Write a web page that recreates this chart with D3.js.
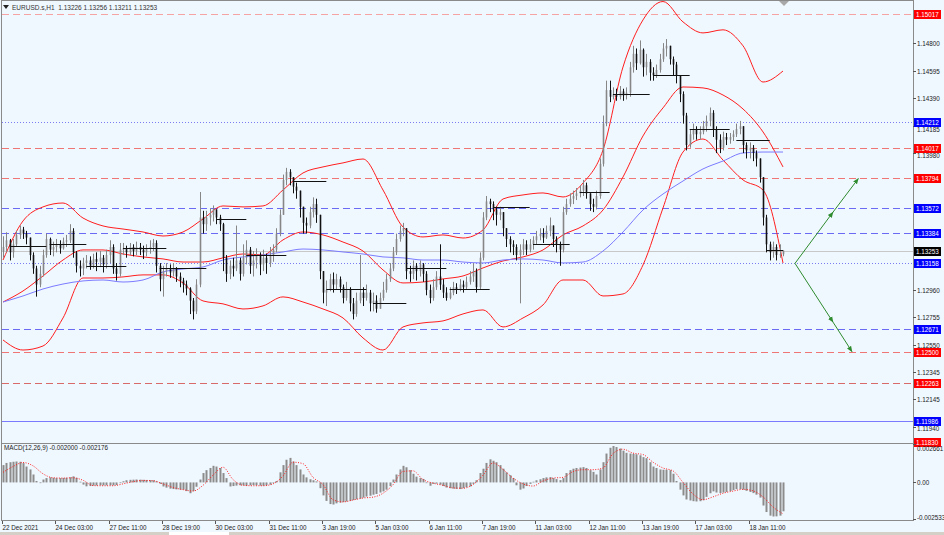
<!DOCTYPE html>
<html><head><meta charset="utf-8">
<script src="https://cdn.jsdelivr.net/npm/d3@7"></script>
<style>
body{margin:0;background:#f0f8ff;}
svg{display:block;font-family:"Liberation Sans",Arial,sans-serif;}
</style>
</head><body>
<svg id="c" width="944" height="535"></svg>
<script>
// ---------------- DATA ----------------
const symbolTitle = "EURUSD.s,H1  1.13226 1.13256 1.13211 1.13253";
const macdTitle = "MACD(12,26,9) -0.002000 -0.002176";
const firstOpen = 1.1325;
const closes = [
1.1328,1.1333,1.1324,1.1330,1.1337,1.1341,1.1338,1.1335,1.1322,1.1312,
1.1300,1.1308,1.1322,1.1334,1.1326,1.1328,1.1330,1.1327,1.1332,1.1333,
1.1340,1.1324,1.1314,1.1312,1.1316,1.1318,1.1314,1.1319,1.1317,1.1320,
1.1315,1.1322,1.1328,1.1312,1.1308,1.1326,1.1327,1.1324,1.1328,1.1325,
1.1328,1.1326,1.1324,1.1327,1.1328,1.1331,1.1314,1.1304,1.1310,1.1312,
1.1309,1.1312,1.1306,1.1303,1.1300,1.1297,1.1288,1.1280,1.1300,1.1350,
1.1345,1.1350,1.1352,1.1356,1.1350,1.1345,1.1320,1.1308,1.1314,1.1312,
1.1318,1.1308,1.1320,1.1326,1.1314,1.1318,1.1322,1.1315,1.1320,1.1316,
1.1322,1.1326,1.1338,1.1352,1.1378,1.1384,1.1380,1.1373,1.1370,1.1358,
1.1346,1.1344,1.1354,1.1360,1.1352,1.1310,1.1294,1.1296,1.1304,1.1300,
1.1304,1.1298,1.1290,1.1296,1.1286,1.1278,1.1288,1.1294,1.1290,1.1294,
1.1286,1.1288,1.1282,1.1290,1.1296,1.1304,1.1312,1.1324,1.1334,1.1340,
1.1342,1.1310,1.1308,1.1314,1.1310,1.1315,1.1308,1.1296,1.1290,1.1298,
1.1306,1.1300,1.1294,1.1290,1.1294,1.1298,1.1296,1.1300,1.1298,1.1302,
1.1306,1.1310,1.1298,1.1320,1.1350,1.1362,1.1360,1.1356,1.1352,1.1354,
1.1342,1.1334,1.1330,1.1328,1.1322,1.1326,1.1330,1.1326,1.1330,1.1333,
1.1336,1.1338,1.1335,1.1340,1.1344,1.1334,1.1330,1.1326,1.1354,1.1360,
1.1364,1.1366,1.1368,1.1370,1.1374,1.1368,1.1360,1.1358,1.1366,1.1390,
1.1420,1.1445,1.1440,1.1442,1.1440,1.1444,1.1441,1.1443,1.1462,1.1472,
1.1465,1.1475,1.1462,1.1466,1.1458,1.1456,1.1460,1.1468,1.1476,1.1478,
1.1468,1.1464,1.1456,1.1442,1.1426,1.1404,1.1412,1.1416,1.1412,1.1414,
1.1418,1.1422,1.1428,1.1416,1.1408,1.1402,1.1410,1.1408,1.1410,1.1412,
1.1416,1.1418,1.1404,1.1400,1.1402,1.1398,1.1394,1.1380,1.1350,1.1330,
1.1324,1.1328,1.1322,1.13226,1.13253];
const highs = [
1.1336,1.1339,1.1334,1.1334,1.1340,1.1344,1.1343,1.1340,1.1335,1.1324,
1.1314,1.1314,1.1326,1.1338,1.1335,1.1332,1.1334,1.1333,1.1335,1.1337,
1.1345,1.1342,1.1325,1.1318,1.1320,1.1322,1.1321,1.1323,1.1324,1.1325,
1.1322,1.1326,1.1333,1.1330,1.1316,1.1331,1.1331,1.1329,1.1331,1.1330,
1.1332,1.1331,1.1329,1.1330,1.1333,1.1334,1.1333,1.1316,1.1314,1.1316,
1.1315,1.1316,1.1313,1.1309,1.1305,1.1303,1.1298,1.1290,1.1304,1.1369,
1.1355,1.1355,1.1357,1.1359,1.1356,1.1352,1.1346,1.1322,1.1318,1.1320,
1.1344,1.1320,1.1330,1.1333,1.1328,1.1325,1.1327,1.1324,1.1326,1.1323,
1.1328,1.1330,1.1342,1.1356,1.1382,1.1387,1.1386,1.1380,1.1376,1.1370,
1.1358,1.1350,1.1358,1.1365,1.1364,1.1352,1.1310,1.1303,1.1308,1.1309,
1.1308,1.1306,1.1300,1.1302,1.1298,1.1290,1.1294,1.1322,1.1298,1.1300,
1.1296,1.1294,1.1292,1.1294,1.1302,1.1308,1.1316,1.1328,1.1338,1.1344,
1.1346,1.1342,1.1314,1.1318,1.1316,1.1318,1.1316,1.1310,1.1300,1.1304,
1.1310,1.1330,1.1304,1.1298,1.1298,1.1302,1.1301,1.1304,1.1303,1.1306,
1.1310,1.1316,1.1312,1.1324,1.1354,1.1366,1.1364,1.1362,1.1358,1.1358,
1.1354,1.1342,1.1336,1.1333,1.1330,1.1330,1.1334,1.1333,1.1334,1.1336,
1.1340,1.1342,1.1342,1.1344,1.1350,1.1344,1.1336,1.1332,1.1358,1.1364,
1.1368,1.1370,1.1372,1.1374,1.1378,1.1376,1.1368,1.1364,1.1370,1.1394,
1.1426,1.1452,1.1452,1.1447,1.1446,1.1448,1.1446,1.1447,1.1466,1.1478,
1.1476,1.1482,1.1476,1.1472,1.1468,1.1462,1.1464,1.1472,1.1480,1.1483,
1.1478,1.1470,1.1466,1.1456,1.1444,1.1428,1.1416,1.1420,1.1418,1.1418,
1.1422,1.1426,1.1432,1.1430,1.1418,1.1412,1.1414,1.1413,1.1413,1.1415,
1.1420,1.1422,1.1418,1.1406,1.1406,1.1404,1.1400,1.1394,1.1380,1.1352,
1.1332,1.1332,1.1330,1.1330,1.13256];
const lows = [
1.1320,1.1324,1.1318,1.1320,1.1328,1.1334,1.1334,1.1330,1.1318,1.1308,
1.1291,1.1298,1.1306,1.1320,1.1322,1.1321,1.1324,1.1323,1.1326,1.1328,
1.1331,1.1320,1.1309,1.1306,1.1307,1.1312,1.1311,1.1312,1.1310,1.1313,
1.1309,1.1312,1.1316,1.1308,1.1303,1.1306,1.1322,1.1320,1.1322,1.1321,
1.1322,1.1322,1.1319,1.1321,1.1323,1.1325,1.1309,1.1295,1.1291,1.1306,
1.1305,1.1306,1.1302,1.1298,1.1294,1.1292,1.1278,1.1274,1.1278,1.1298,
1.1338,1.1340,1.1344,1.1347,1.1345,1.1340,1.1310,1.1302,1.1304,1.1306,
1.1310,1.1303,1.1306,1.1315,1.1308,1.1306,1.1312,1.1307,1.1310,1.1308,
1.1313,1.1317,1.1324,1.1336,1.1352,1.1374,1.1374,1.1368,1.1364,1.1350,
1.1338,1.1338,1.1342,1.1350,1.1346,1.1304,1.1286,1.1284,1.1295,1.1294,
1.1296,1.1294,1.1286,1.1288,1.1280,1.1274,1.1276,1.1286,1.1284,1.1288,
1.1280,1.1280,1.1279,1.1282,1.1288,1.1294,1.1302,1.1310,1.1322,1.1332,
1.1336,1.1304,1.1302,1.1304,1.1303,1.1306,1.1302,1.1292,1.1286,1.1288,
1.1296,1.1296,1.1290,1.1288,1.1289,1.1292,1.1293,1.1295,1.1294,1.1296,
1.1300,1.1302,1.1294,1.1296,1.1318,1.1348,1.1354,1.1348,1.1344,1.1348,
1.1336,1.1328,1.1324,1.1322,1.1318,1.1286,1.1322,1.1322,1.1324,1.1326,
1.1330,1.1333,1.1331,1.1334,1.1336,1.1328,1.1324,1.1314,1.1324,1.1352,
1.1358,1.1360,1.1363,1.1365,1.1366,1.1364,1.1355,1.1354,1.1356,1.1364,
1.1388,1.1418,1.1436,1.1438,1.1437,1.1438,1.1437,1.1438,1.1440,1.1458,
1.1460,1.1464,1.1455,1.1456,1.1452,1.1452,1.1454,1.1458,1.1466,1.1470,
1.1464,1.1456,1.1450,1.1436,1.1420,1.1400,1.1402,1.1408,1.1408,1.1408,
1.1412,1.1414,1.1418,1.1410,1.1398,1.1398,1.1400,1.1404,1.1405,1.1407,
1.1410,1.1412,1.1398,1.1394,1.1394,1.1392,1.1388,1.1376,1.1344,1.1324,
1.1318,1.1320,1.1318,1.1320,1.13211];

// Bollinger bands & moving average, sampled every 6 bars (bar index = k*6)
const bandStep = 6;
const bbUpper = [1.13183,1.13474,1.13579,1.13608,1.13496,1.13437,1.13414,1.13392,1.13362,1.13392,
1.13489,1.13586,1.13579,1.13586,1.13705,1.13832,1.13877,1.13907,1.13936,1.13705,
1.13429,1.13355,1.13370,1.13347,1.13407,1.13638,1.13668,1.13683,1.13653,1.13757,
1.14003,1.14622,1.14973,1.15110,1.14958,1.14876,1.14899,1.14780,1.14510,1.14592];
const bbMiddle = [1.12870,1.12952,1.13064,1.13183,1.13258,1.13258,1.13228,1.13206,1.13191,1.13168,
1.13168,1.13199,1.13228,1.13221,1.13333,1.13392,1.13370,1.13317,1.13250,1.13109,
1.13012,1.13019,1.13042,1.13064,1.13124,1.13176,1.13206,1.13258,1.13370,1.13437,
1.13556,1.13802,1.14108,1.14317,1.14473,1.14466,1.14413,1.14309,1.14138,1.13877];
const bbLower = [1.12587,1.12512,1.12542,1.12751,1.13049,1.13049,1.13057,1.13072,1.13072,1.13012,
1.12878,1.12856,1.12818,1.12841,1.12908,1.12870,1.12818,1.12751,1.12602,1.12512,
1.12684,1.12714,1.12729,1.12781,1.12811,1.12684,1.12751,1.12848,1.13034,1.13034,
1.12915,1.12930,1.13146,1.13571,1.13988,1.14085,1.13928,1.13780,1.13705,1.13161];
const maBlue = [1.12870,1.12915,1.12967,1.13004,1.13027,1.13034,1.13019,1.13034,1.13094,1.13116,
1.13131,1.13183,1.13206,1.13221,1.13243,1.13265,1.13258,1.13243,1.13228,1.13206,
1.13199,1.13183,1.13183,1.13168,1.13161,1.13183,1.13191,1.13183,1.13161,1.13168,
1.13250,1.13392,1.13556,1.13675,1.13772,1.13862,1.13921,1.13981,1.13988,1.13988];

// Daily open segments: start bar, end bar, price
const segStart = [2,14,25,36,47,64,73,87,97,111,121,134,147,159,173,183,195,206,220,229];
const segEnd   = [13,25,37,49,61,73,85,97,109,121,133,146,158,170,182,194,206,218,230,234];
const segPrice = [1.1329,1.1330,1.1314,1.1327,1.1312,1.1349,1.1322,1.1377,1.1297,1.1286,
                  1.1312,1.1297,1.1358,1.1330,1.1369,1.1442,1.1456,1.1416,1.1408,1.1326];

// Horizontal levels
const levelPrices = [1.15017,1.14212,1.14017,1.13794,1.13572,1.13384,1.13253,1.13158,1.12671,1.12500,1.12263,1.11986,1.11830];
const levelKinds  = ["pinkDash","blueDot","redDash","redDash","blueDash","blueDash","last","blueDot","blueDash","redDash","redDash2","blueSolid","darkRedDash"];

// Price axis ticks that remain visible beside the level labels
const priceTicks = [1.14800,1.14595,1.14390,1.14185,1.13980,1.12960,1.12755,1.12550,1.12345,1.12145,1.11940];

// Time axis labels (bar index, text)
const timeIdx = [0,16,32,48,64,80,96,112,128,144,160,176,192,208,224];
const timeLabels = ["22 Dec 2021","24 Dec 03:00","27 Dec 11:00","28 Dec 19:00","30 Dec 03:00","31 Dec 11:00","3 Jan 19:00","5 Jan 03:00","6 Jan 11:00","7 Jan 19:00","11 Jan 03:00","12 Jan 11:00","13 Jan 19:00","17 Jan 03:00","18 Jan 11:00"];

// MACD histogram per bar
const macdHist = [
0.00120,0.00135,0.00140,0.00143,0.00145,0.00143,0.00134,0.00110,0.00090,0.00055,
0.00010,-0.00005,0.00020,0.00030,0.00035,0.00032,0.00030,0.00030,0.00031,0.00032,
0.00036,0.00042,0.00032,0.00005,-0.00015,-0.00027,-0.00025,-0.00022,-0.00021,-0.00020,
-0.00020,-0.00020,-0.00020,-0.00020,-0.00018,-0.00005,0.00008,0.00015,0.00018,0.00019,
0.00020,0.00019,0.00018,0.00017,0.00016,0.00015,0.00008,-0.00010,-0.00028,-0.00036,
-0.00043,-0.00046,-0.00048,-0.00050,-0.00050,-0.00060,-0.00075,-0.00060,-0.00030,0.00020,
0.00065,0.00085,0.00100,0.00115,0.00110,0.00100,0.00065,0.00030,-0.00028,-0.00025,
-0.00022,-0.00020,-0.00020,-0.00023,-0.00020,-0.00018,-0.00020,-0.00022,-0.00023,-0.00020,
-0.00015,-0.00005,0.00010,0.00070,0.00120,0.00157,0.00170,0.00145,0.00120,0.00090,
0.00055,0.00035,0.00022,0.00015,0.00007,-0.00040,-0.00090,-0.00128,-0.00150,-0.00153,
-0.00145,-0.00140,-0.00136,-0.00132,-0.00128,-0.00122,-0.00117,-0.00112,-0.00105,-0.00098,
-0.00092,-0.00085,-0.00080,-0.00070,-0.00062,-0.00050,-0.00025,0.00020,0.00055,0.00090,
0.00115,0.00105,0.00085,0.00060,0.00040,0.00030,0.00024,-0.00005,-0.00023,-0.00010,
-0.00008,-0.00015,-0.00025,-0.00035,-0.00040,-0.00043,-0.00045,-0.00046,-0.00040,-0.00033,
-0.00028,-0.00010,0.00015,0.00065,0.00095,0.00135,0.00160,0.00150,0.00140,0.00120,
0.00095,0.00070,0.00050,0.00030,-0.00020,-0.00050,-0.00042,-0.00025,-0.00010,0.00005,
0.00015,0.00022,0.00030,0.00035,0.00037,0.00030,0.00023,0.00016,0.00030,0.00065,
0.00085,0.00095,0.00100,0.00103,0.00106,0.00100,0.00085,0.00073,0.00055,0.00090,
0.00140,0.00200,0.00240,0.00252,0.00245,0.00235,0.00220,0.00205,0.00200,0.00198,
0.00195,0.00188,0.00175,0.00168,0.00140,0.00110,0.00100,0.00090,0.00088,0.00088,
0.00085,0.00060,0.00010,-0.00050,-0.00090,-0.00118,-0.00125,-0.00130,-0.00132,-0.00130,
-0.00123,-0.00100,-0.00075,-0.00062,-0.00070,-0.00074,-0.00070,-0.00066,-0.00060,-0.00053,
-0.00047,-0.00046,-0.00050,-0.00058,-0.00066,-0.00074,-0.00085,-0.00105,-0.00160,-0.00205,
-0.00230,-0.00236,-0.00235,-0.00230,-0.00200];
// MACD signal, sampled every 3 bars
const signalStep = 3;
const macdSignal = [0.00070,0.00110,0.00138,0.00115,0.00060,0.00032,0.00030,0.00032,0.00015,-0.00022,
-0.00023,-0.00023,-0.00010,0.00005,0.00014,0.00012,-0.00010,-0.00035,-0.00050,-0.00060,
-0.00020,0.00050,0.00105,0.00020,-0.00020,-0.00023,-0.00023,-0.00010,0.00045,0.00140,
0.00130,0.00035,-0.00015,-0.00120,-0.00135,-0.00122,-0.00108,-0.00102,-0.00075,-0.00016,
0.00076,0.00080,0.00020,-0.00005,-0.00020,-0.00038,-0.00040,-0.00015,0.00050,0.00135,
0.00090,0.00030,-0.00010,-0.00025,0.00010,0.00030,0.00035,0.00075,0.00088,0.00088,
0.00100,0.00200,0.00230,0.00203,0.00193,0.00140,0.00100,0.00080,0.00000,-0.00080,
-0.00120,-0.00100,-0.00075,-0.00060,-0.00048,-0.00058,-0.00100,-0.00170,-0.002176];
const macdTicks = [0.002661, 0.00, -0.002533];
const macdTickText = ["0.002661","0.00","-0.002533"];

// Forecast arrows (bar index, price)
const arrowUp = [[237.6,1.13158],[249,1.1354],[256.6,1.1379]];
const arrowDown = [[237.6,1.13158],[249,1.1272],[254.7,1.1250]];

// ---------------- DRAW ----------------
const svg = d3.select("#c");
const W = 944, H = 535;
const plotL = 2, plotR = 913, mainT = 1, mainB = 442, macdT = 444, macdB = 520;
const x = d3.scaleLinear().domain([0, 234]).range([3, 783]);
const y = d3.scaleLinear().domain([1.11830, 1.15017]).range([441.5, 14]);
const ym = d3.scaleLinear().domain([-0.002533, 0.002661]).range([519, 444]);

svg.append("rect").attr("width", W).attr("height", H).attr("fill", "#f0f8ff");

const defs = svg.append("defs");
defs.append("clipPath").attr("id", "mainClip").append("rect")
  .attr("x", plotL).attr("y", mainT).attr("width", plotR - plotL).attr("height", mainB - mainT);
defs.append("clipPath").attr("id", "macdClip").append("rect")
  .attr("x", plotL).attr("y", macdT).attr("width", plotR - plotL).attr("height", macdB - macdT);
defs.append("marker").attr("id", "ah").attr("viewBox", "0 0 10 10").attr("refX", 9).attr("refY", 5)
  .attr("markerWidth", 6).attr("markerHeight", 6).attr("orient", "auto")
  .append("path").attr("d", "M0,1 L10,5 L0,9 z").attr("fill", "#2e8b2e");

const main = svg.append("g").attr("clip-path", "url(#mainClip)");

// levels
const levelStyle = {
  pinkDash:   {c:"#f5a3a3", d:"7,4"},
  blueDot:    {c:"#7c7cf2", d:"1,2"},
  redDash:    {c:"#f07676", d:"7,4"},
  blueDash:   {c:"#6a6af4", d:"7,4"},
  last:       {c:"#c8c8c8", d:null},
  redDash2:   {c:"#d86a6a", d:"7,4"},
  blueSolid:  {c:"#7a7aff", d:null},
  darkRedDash:{c:"#a83a3a", d:"7,4"}
};
levelPrices.forEach((p, i) => {
  const s = levelStyle[levelKinds[i]];
  main.append("line").attr("x1", plotL).attr("x2", plotR)
    .attr("y1", Math.round(y(p)) + 0.5).attr("y2", Math.round(y(p)) + 0.5)
    .attr("stroke", s.c).attr("stroke-width", 1)
    .attr("stroke-dasharray", s.d);
});

// bands & MA
const lineGen = d3.line().x(d => x(d[0])).y(d => y(d[1])).curve(d3.curveMonotoneX);
const toPts = (arr, step) => arr.map((v, k) => [k * step, v]);
[bbUpper, bbMiddle, bbLower].forEach(arr => {
  main.append("path").attr("d", lineGen(toPts(arr, bandStep)))
    .attr("fill", "none").attr("stroke", "#ff1e1e").attr("stroke-width", 1);
});
main.append("path").attr("d", lineGen(toPts(maBlue, bandStep)))
  .attr("fill", "none").attr("stroke", "#7b7bff").attr("stroke-width", 1);

// candles
const opens = closes.map((c, i) => i === 0 ? firstOpen : closes[i - 1]);
const bars = closes.map((c, i) => ({i, o: opens[i], c, h: Math.max(highs[i], opens[i], c), l: Math.min(lows[i], opens[i], c)}));
const upCol = "#868686", dnCol = "#111";
const cg = main.append("g");
cg.selectAll("line.w").data(bars).join("line").attr("class", "w")
  .attr("x1", d => Math.round(x(d.i)) + 0.5).attr("x2", d => Math.round(x(d.i)) + 0.5)
  .attr("y1", d => y(d.h)).attr("y2", d => y(d.l))
  .attr("stroke", d => d.c >= d.o ? upCol : dnCol);
cg.selectAll("rect.b").data(bars).join("rect").attr("class", "b")
  .attr("x", d => Math.round(x(d.i)) - 0.3).attr("width", 1.6)
  .attr("y", d => y(Math.max(d.o, d.c)))
  .attr("height", d => Math.max(1, y(Math.min(d.o, d.c)) - y(Math.max(d.o, d.c))))
  .attr("fill", d => d.c >= d.o ? upCol : dnCol);

// day segments
segStart.forEach((s, k) => {
  main.append("line").attr("x1", x(s)).attr("x2", x(segEnd[k]))
    .attr("y1", Math.round(y(segPrice[k])) + 0.5).attr("y2", Math.round(y(segPrice[k])) + 0.5)
    .attr("stroke", "#111").attr("stroke-width", 1);
});

// arrows
const arrowLine = d3.line().x(d => x(d[0])).y(d => y(d[1]));
[arrowUp, arrowDown].forEach(a => {
  for (let k = 0; k < a.length - 1; k++) {
    main.append("path").attr("d", arrowLine([a[k], a[k + 1]]))
      .attr("stroke", "#2e8b2e").attr("stroke-width", 1).attr("fill", "none")
      .attr("marker-end", "url(#ah)");
  }
});

// shift marker
svg.append("path").attr("d", "M779,1 L789,1 L784,6 Z").attr("fill", "#a8a8a8");

// frames
const frame = svg.append("g").attr("stroke", "#8a8a8a").attr("stroke-width", 1).attr("fill", "none");
frame.append("line").attr("x1", 1.5).attr("x2", 1.5).attr("y1", 0).attr("y2", 521);
frame.append("line").attr("x1", 913.5).attr("x2", 913.5).attr("y1", 0).attr("y2", 521);
frame.append("line").attr("x1", 1).attr("x2", 914).attr("y1", 0.5).attr("y2", 0.5);
frame.append("line").attr("x1", 1).attr("x2", 914).attr("y1", 443.5).attr("y2", 443.5);
frame.append("line").attr("x1", 1).attr("x2", 914).attr("y1", 520.5).attr("y2", 520.5);

// title
svg.append("path").attr("d", "M3,5 L9,5 L6,9 Z").attr("fill", "#222");
svg.append("text").attr("x", 12).attr("y", 10).attr("font-size", 6.5).attr("fill", "#333")
  .attr("xml:space", "preserve").style("white-space", "pre").text(symbolTitle);

// price axis ticks (labels nudged below a level box they would collide with)
const ax = svg.append("g");
const boxYs = levelPrices.map(p => Math.round(y(p)));
priceTicks.forEach(t => {
  const yy = Math.round(y(t)) + 0.5;
  ax.append("line").attr("x1", 913).attr("x2", 916).attr("y1", yy).attr("y2", yy).attr("stroke", "#555");
  let base = yy + 2.3;
  boxYs.forEach(b => {
    const boxBottom = b + 5;
    if (base - 5 < boxBottom && base > b - 4) base = boxBottom + 5.2;
  });
  ax.append("text").attr("x", 917).attr("y", base).attr("font-size", 6.3).attr("fill", "#222").text(t.toFixed(5));
});

// level labels
const labelBg = {pinkDash:"#ff0000", redDash:"#ff0000", redDash2:"#ff0000", darkRedDash:"#ff0000",
  blueDot:"#0000ff", blueDash:"#0000ff", blueSolid:"#0000ff", last:"#000000"};
levelPrices.forEach((p, i) => {
  const yy = Math.round(y(p));
  ax.append("rect").attr("x", 914).attr("y", yy - 4).attr("width", 27).attr("height", 9)
    .attr("fill", labelBg[levelKinds[i]]);
  ax.append("text").attr("x", 916).attr("y", yy + 2.5).attr("font-size", 6.3).attr("fill", "#fff")
    .text(p.toFixed(5));
});

// MACD panel
const mg = svg.append("g").attr("clip-path", "url(#macdClip)");
mg.selectAll("rect").data(macdHist).join("rect")
  .attr("x", (d, i) => Math.round(x(i)) - 0.5).attr("width", 2)
  .attr("y", d => Math.min(ym(0), ym(d)))
  .attr("height", d => Math.max(0.5, Math.abs(ym(d) - ym(0))))
  .attr("fill", "#8c8c8c");
mg.append("path").attr("d", d3.line().x(d => x(d[0])).y(d => ym(d[1])).curve(d3.curveMonotoneX)(toPts(macdSignal, signalStep)))
  .attr("fill", "none").attr("stroke", "#ff2020").attr("stroke-width", 1).attr("stroke-dasharray", "1,1.5");
svg.append("text").attr("x", 4).attr("y", 450).attr("font-size", 6.3).attr("fill", "#222").text(macdTitle);
const macdTextY = [450.5, 485, 520];
macdTicks.forEach((t, k) => {
  const yy = Math.round(ym(t)) + 0.5;
  svg.append("line").attr("x1", 913).attr("x2", 916).attr("y1", yy).attr("y2", yy).attr("stroke", "#555");
  svg.append("text").attr("x", 917).attr("y", macdTextY[k]).attr("font-size", 6.3).attr("fill", "#222").text(macdTickText[k]);
});

// time axis
timeIdx.forEach((ti, k) => {
  const xx = Math.round(x(ti)) - 0.5;
  svg.append("line").attr("x1", xx).attr("x2", xx).attr("y1", 521).attr("y2", 524).attr("stroke", "#555");
  svg.append("text").attr("x", xx).attr("y", 530).attr("font-size", 6.3).attr("fill", "#222").text(timeLabels[k]);
});

// bottom tab strip
svg.append("rect").attr("x", 0).attr("y", 532).attr("width", W).attr("height", 3).attr("fill", "#d4d0c8");
svg.append("rect").attr("x", 169).attr("y", 532).attr("width", 60).attr("height", 3).attr("fill", "#ffffff");
</script>
</body></html>
